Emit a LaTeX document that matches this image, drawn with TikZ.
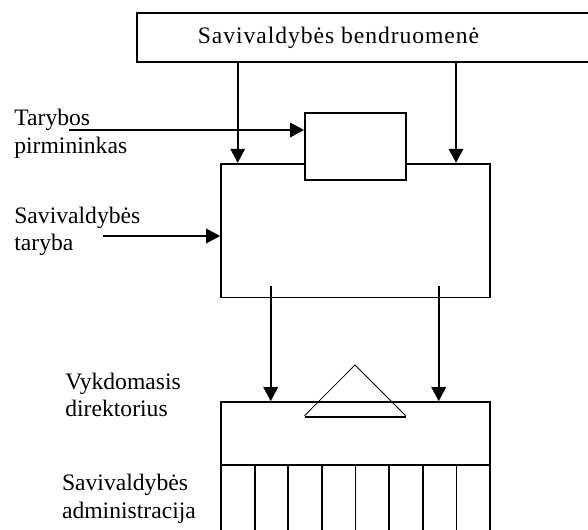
\documentclass[tikz,border=0pt]{standalone}
\usepackage{fontspec}
\setmainfont{Liberation Serif}
\usetikzlibrary{arrows.meta}

\tikzset{
    box/.style={draw, line width=1pt, fill=white, inner sep=0pt},
    arr/.style={line width=1pt, -{Triangle[length=0.28cm, width=0.29cm]}},
    lbl/.style={align=left, inner sep=0pt, anchor=base west, font=\fontsize{13.44}{15.7}\selectfont},
    col/.style={line width=1pt}
}

\begin{document}
\begin{tikzpicture}
        \useasboundingbox (0,0) rectangle (11.76,10.58);
        \clip (0,0) rectangle (11.76,10.58);

        % Draw the boxes
            \node[box, minimum width=9.36cm, minimum height=0.992cm] (bendr) at (7.42,9.83) {};
            \node[box, minimum width=5.38cm, minimum height=2.676cm] (taryba) at (7.11,5.968) {};
            \node[box, minimum width=2.02cm, minimum height=1.352cm] (pirm) at (7.11,7.65) {};
            \node[box, minimum width=5.38cm, minimum height=1.266cm] (direkt) at (7.11,1.907) {};

        % Draw the texts
            \node[lbl, anchor=base, font=\fontsize{13.44}{15.7}\selectfont\addfontfeature{LetterSpace=4}] (bendrTxt) at (6.77,9.714) {Savivaldybės bendruomenė};
            \node[lbl] (lblPirm) at (0.28,7.514) {Tarybos\\pirmininkas};
            \node[lbl] (lblTaryba) at (0.28,5.566) {Savivaldybės\\taryba};
            \node[lbl] (lblDirekt) at (1.30,2.246) {Vykdomasis\\direktorius};
            \node[lbl] (lblAdmin) at (1.234,0.214) {Savivaldybės\\administracija};

        % Draw the arrows
            \coordinate (c1) at (4.754,0);
            \coordinate (c2) at (9.12,0);
            \coordinate (d1) at (5.414,4.86);
            \coordinate (d2) at (8.774,4.86);
            \coordinate (pStart) at (1.386,7.98);
            \coordinate (tStart) at (2.066,5.86);
            \draw[arr] (bendr.south -| c1) -- (taryba.north -| c1);
            \draw[arr] (bendr.south -| c2) -- (taryba.north -| c2);
            \draw[arr] (pStart) -- (pirm.west |- pStart);
            \draw[arr] (tStart) -- (taryba.west |- tStart);
            \draw[arr] (d1) -- (direkt.north -| d1);
            \draw[arr] (d2) -- (direkt.north -| d2);

        % Draw the triangle
            \draw[line width=0.45pt] (6.09,2.266) -- (7.10,3.28) -- (8.114,2.266);
            \draw[line width=1pt] (6.09,2.234) -- (8.114,2.234);

        % Draw the administration columns
            \draw[col] (4.42,1.274) -- (4.42,-0.1);
            \draw[col] (5.0925,1.274) -- (5.0925,-0.1);
            \draw[col] (5.765,1.274) -- (5.765,-0.1);
            \draw[col] (6.4375,1.274) -- (6.4375,-0.1);
            \draw[col] (7.11,1.274) -- (7.11,-0.1);
            \draw[col] (7.7825,1.274) -- (7.7825,-0.1);
            \draw[col] (8.455,1.274) -- (8.455,-0.1);
            \draw[col] (9.1275,1.274) -- (9.1275,-0.1);
            \draw[col] (9.80,1.274) -- (9.80,-0.1);
    \end{tikzpicture}
\end{document}
